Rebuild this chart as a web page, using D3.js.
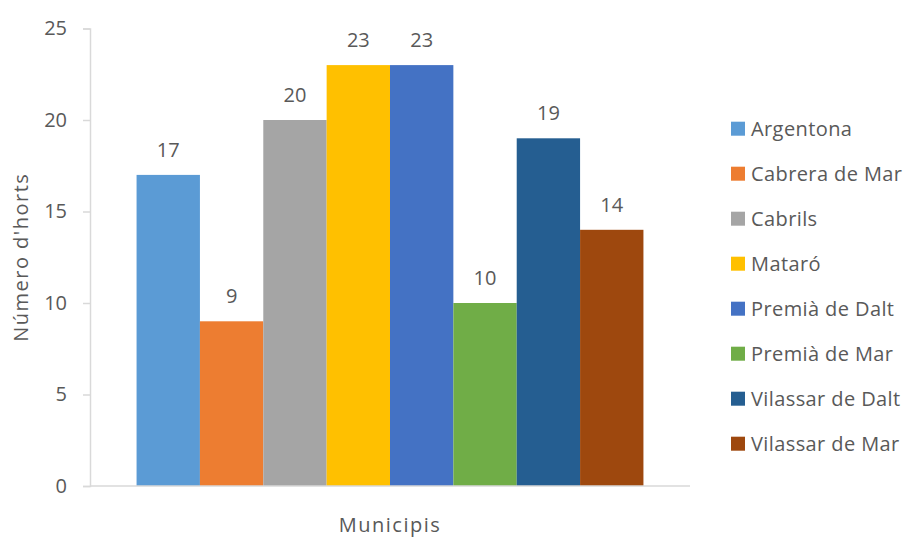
<!DOCTYPE html>
<html>
<head>
<meta charset="utf-8">
<script src="https://cdn.jsdelivr.net/npm/d3@7"></script>
<style>
  html, body { margin: 0; padding: 0; background: #fff; }
  svg text { font-family: "Open Sans", "Noto Sans", sans-serif; fill: #595959; }
</style>
</head>
<body>
<svg id="chart" width="906" height="539"></svg>
<script>
// Number of urban gardens per municipality
const municipis = ["Argentona", "Cabrera de Mar", "Cabrils", "Mataró", "Premià de Dalt", "Premià de Mar", "Vilassar de Dalt", "Vilassar de Mar"];
const horts = [17, 9, 20, 23, 23, 10, 19, 14];
const colors = ["#5B9BD5", "#ED7D31", "#A5A5A5", "#FFC000", "#4472C4", "#70AD47", "#255E91", "#9E480E"];
const yTicks = [0, 5, 10, 15, 20, 25];

const svg = d3.select("#chart");
const plot = { left: 90, right: 690, top: 28.5, bottom: 486 };

const x = d3.scaleBand()
  .domain(municipis)
  .range([plot.left, plot.right])
  .paddingInner(0)
  .paddingOuter(0.735);

const y = d3.scaleLinear()
  .domain([0, 25])
  .range([plot.bottom, plot.top]);

// Y axis line and ticks
const yAxis = svg.append("g")
  .attr("transform", `translate(${plot.left},0)`)
  .call(d3.axisLeft(y).tickValues(yTicks).tickSize(7).tickPadding(16));
yAxis.select(".domain").attr("stroke", "#d9d9d9").attr("stroke-width", 1.5);
yAxis.selectAll(".tick line").attr("stroke", "#d9d9d9").attr("stroke-width", 1.5);
yAxis.selectAll(".tick text")
  .attr("font-size", 20)
  .attr("fill", "#595959")
  .style("font-family", "'Open Sans', sans-serif");

// Bars
svg.append("g").selectAll("rect")
  .data(municipis)
  .join("rect")
  .attr("x", d => x(d))
  .attr("width", x.bandwidth())
  .attr("y", (d, i) => y(horts[i]))
  .attr("height", (d, i) => y(0) - y(horts[i]))
  .attr("fill", (d, i) => colors[i]);

// Baseline
svg.append("line")
  .attr("x1", plot.left).attr("x2", plot.right)
  .attr("y1", y(0)).attr("y2", y(0))
  .attr("stroke", "#d9d9d9").attr("stroke-width", 1.5);

// Value labels
svg.append("g").selectAll("text")
  .data(municipis)
  .join("text")
  .attr("x", d => x(d) + x.bandwidth() / 2)
  .attr("y", (d, i) => y(horts[i]) - 18)
  .attr("text-anchor", "middle")
  .attr("font-size", 20)
  .text((d, i) => horts[i]);

// Axis titles
svg.append("text")
  .attr("transform", `translate(28,${(plot.top + plot.bottom) / 2}) rotate(-90)`)
  .attr("text-anchor", "middle")
  .attr("font-size", 20)
  .attr("letter-spacing", 1.5)
  .text("Número d'horts");

svg.append("text")
  .attr("x", (plot.left + plot.right) / 2)
  .attr("y", 532)
  .attr("text-anchor", "middle")
  .attr("font-size", 20)
  .attr("letter-spacing", 1.5)
  .text("Municipis");

// Legend
const legend = svg.append("g").selectAll("g")
  .data(municipis)
  .join("g")
  .attr("transform", (d, i) => `translate(731,${128.7 + i * 45})`);
legend.append("rect")
  .attr("x", 0).attr("y", -7)
  .attr("width", 14).attr("height", 14)
  .attr("fill", (d, i) => colors[i]);
legend.append("text")
  .attr("x", 20).attr("y", 7)
  .attr("font-size", 20)
  .attr("letter-spacing", 0.4)
  .text(d => d);
</script>
</body>
</html>
